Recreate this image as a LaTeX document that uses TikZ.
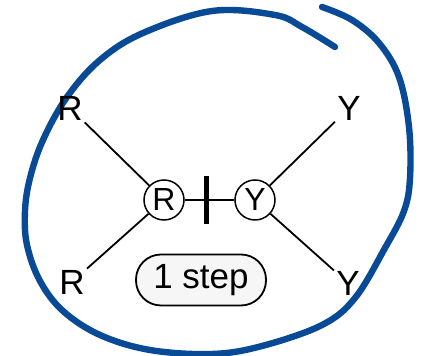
\documentclass[tikz,border=0pt]{standalone}
\usepackage{fontspec}
\setmainfont{Liberation Sans}
\usepackage{tikz}
\usepackage{xcolor}
\usetikzlibrary{positioning}
\definecolor{ryblue}{RGB}{8,74,150}
\definecolor{rylight}{RGB}{246,246,246}
\tikzset{
  rylab/.style={inner sep=1pt, font=\fontsize{17.5}{20}\selectfont},
  ryatom/.style={draw, circle, line width=.75pt, fill=white, minimum size=20pt, inner sep=0pt, font=\fontsize{16}{18}\selectfont},
  rybond/.style={line width=.9pt},
  rycut/.style={line width=2.5pt},
  rypill/.style={draw, line width=.9pt, fill=rylight, rounded corners=12.5pt, minimum width=65pt, minimum height=25.5pt, font=\fontsize{17.5}{20}\selectfont},
  ryloop/.style={draw=ryblue, line width=3.2pt, line cap=round, line join=round}
}
\begin{document}
\begin{tikzpicture}[x=.5pt, y=-.5pt]
  \useasboundingbox (0,0) rectangle (424,356);
  % hand-drawn loop
  \draw[ryloop] plot[smooth, tension=.6] coordinates {(335,47) (302,27) (275,15) (212,11) (143,33) (100,60) (67,97) (43,140) (30,178) (25,211) (27,245) (40,281) (63,311) (100,335) (150,350) (212,354) (262,346) (322,325) (355,298) (385,248) (404,211) (410,178) (409,127) (399,77) (379,43) (352,20) (322,7)};
  \node[ryatom] (rc) at (164,200) {R};
  \node[ryatom] (yc) at (255,200) {Y};
  \node[rylab] (rtop) at (70,108) {R};
  \node[rylab] (rbot) at (72,282) {R};
  \node[rylab] (ytop) at (349,108) {Y};
  \node[rylab] (ybot) at (348,283) {Y};
  \node[rypill] (steps) at (201,280) {1 step};
  \draw[rybond] (rtop) -- (rc);
  \draw[rybond] (rbot) -- (rc);
  \draw[rybond] (ytop) -- (yc);
  \draw[rybond] (ybot) -- (yc);
  \draw[rybond] (rc) -- coordinate[pos=.44] (cut) (yc);
  \draw[rycut] ([yshift=12pt]cut) -- ([yshift=-12pt]cut);
\end{tikzpicture}
\end{document}
